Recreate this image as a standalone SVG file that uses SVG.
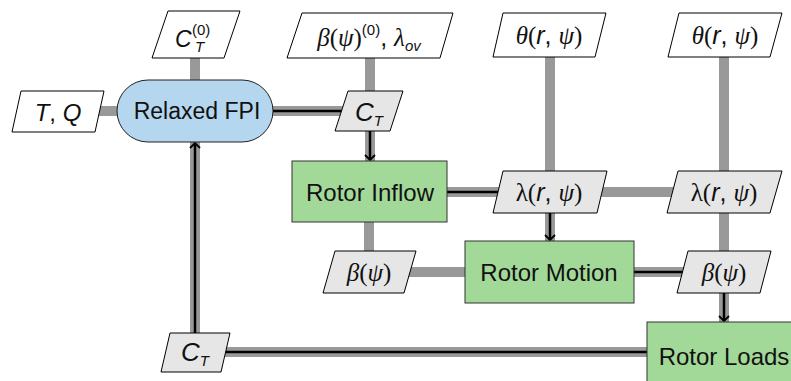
<svg xmlns="http://www.w3.org/2000/svg" width="791" height="381" viewBox="0 0 791 381">
  <defs>
    <style>
      .data { stroke: #999999; stroke-width: 10; fill: none; }
      .proc { stroke: #000000; stroke-width: 2.5; fill: none; }
      .pg-w { fill: #ffffff; stroke: #000000; stroke-width: 1; }
      .pg-g { fill: #e6e6e6; stroke: #000000; stroke-width: 1; }
      .comp { fill: #a3d998; stroke: #333333; stroke-width: 1; }
      .drv { fill: #b4d6ee; stroke: #222222; stroke-width: 1; }
      text { font-family: "Liberation Sans", Arial, sans-serif; font-size: 23px; fill: #111111; }
      .big { font-size: 24px; }
      .mt { font-size: 25px; }
      .sf { font-family: "Liberation Serif", "Times New Roman", serif; }
      .it { font-style: italic; }
      .sm { font-size: 15px; }
    </style>
    <marker id="arrow" markerUnits="userSpaceOnUse" markerWidth="14" markerHeight="14" refX="0" refY="0" viewBox="-8 -7 10 14" orient="auto">
      <path d="M-5,-5 L0,0 L-5,5" stroke="#000000" stroke-width="1.8" fill="none"/>
    </marker>
  </defs>

  <!-- connectors: grey data paths, black process paths on top -->
  <g id="connectors">
    <!-- data lines -->
    <line class="data" x1="60" y1="111" x2="195" y2="111"/>
    <line class="data" x1="195" y1="35" x2="195" y2="111"/>
    <line class="data" x1="195" y1="111" x2="370" y2="111"/>
    <line class="data" x1="370" y1="35" x2="370" y2="192"/>
    <line class="data" x1="369" y1="192" x2="724" y2="192"/>
    <line class="data" x1="550" y1="35" x2="550" y2="272"/>
    <line class="data" x1="724" y1="35" x2="724" y2="350"/>
    <line class="data" x1="369" y1="192" x2="369" y2="272"/>
    <line class="data" x1="369" y1="272" x2="724" y2="272"/>
    <line class="data" x1="195" y1="111" x2="195" y2="352"/>
    <line class="data" x1="195" y1="352" x2="724" y2="352"/>
    <!-- process lines -->
    <line class="proc" x1="273" y1="111" x2="345" y2="111"/>
    <line class="proc" x1="370" y1="131" x2="370" y2="160" marker-end="url(#arrow)"/>
    <line class="proc" x1="447" y1="192" x2="500" y2="192"/>
    <line class="proc" x1="550" y1="213" x2="550" y2="240" marker-end="url(#arrow)"/>
    <line class="proc" x1="634" y1="272" x2="684" y2="272"/>
    <line class="proc" x1="724" y1="293" x2="724" y2="321" marker-end="url(#arrow)"/>
    <line class="proc" x1="225" y1="352" x2="647" y2="352"/>
    <line class="proc" x1="195" y1="333" x2="195" y2="143" marker-end="url(#arrow)"/>
  </g>

  <!-- inputs -->
  <g id="in-TQ">
    <polygon class="pg-w" points="21,91 104,91 95,132 12,132"/>
    <text x="58" y="121" text-anchor="middle" class="big"><tspan class="it">T</tspan>, <tspan class="it">Q</tspan></text>
  </g>
  <g id="in-CT0">
    <polygon class="pg-w" points="168,11 240,11 224,58 152,58"/>
    <text x="175" y="47" class="it" font-size="26">C</text>
    <text x="192" y="35" class="sm" font-size="15">(0)</text>
    <text x="195" y="52" class="it sm">T</text>
  </g>
  <g id="in-beta0">
    <polygon class="pg-w" points="302,13 453,13 440,58 287,58"/>
    <text x="369" y="46" text-anchor="middle" class="mt"><tspan class="sf it">β</tspan><tspan class="sf">(</tspan><tspan class="sf it">ψ</tspan><tspan class="sf">)</tspan><tspan class="sm" dy="-11">(0)</tspan><tspan dy="11">, </tspan><tspan class="sf it">λ</tspan><tspan class="sm it" dy="5">ov</tspan></text>
  </g>
  <g id="in-theta1">
    <polygon class="pg-w" points="503,13 606,13 595,57 493,57"/>
    <text x="549" y="44" text-anchor="middle" class="mt"><tspan class="sf it">θ</tspan><tspan class="sf">(</tspan><tspan class="it">r</tspan>, <tspan class="sf it">ψ</tspan><tspan class="sf">)</tspan></text>
  </g>
  <g id="in-theta2">
    <polygon class="pg-w" points="679,13 782,13 770,57 668,57"/>
    <text x="725" y="44" text-anchor="middle" class="mt"><tspan class="sf it">θ</tspan><tspan class="sf">(</tspan><tspan class="it">r</tspan>, <tspan class="sf it">ψ</tspan><tspan class="sf">)</tspan></text>
  </g>

  <!-- driver -->
  <g id="fpi">
    <rect class="drv" x="117" y="80" width="156" height="62" rx="31" ry="31"/>
    <text x="197" y="119" text-anchor="middle">Relaxed FPI</text>
  </g>

  <!-- coupling variables -->
  <g id="ct-top">
    <polygon class="pg-g" points="348,91 403,91 390,131 335,131"/>
    <text x="369" y="121" text-anchor="middle"><tspan class="it" font-size="26">C</tspan><tspan class="it sm" dy="5">T</tspan></text>
  </g>
  <g id="lambda1">
    <polygon class="pg-g" points="503,171 607,171 597,213 493,213"/>
    <text x="549" y="201" text-anchor="middle" class="mt"><tspan class="sf">λ</tspan><tspan class="sf">(</tspan><tspan class="it">r</tspan>, <tspan class="sf it">ψ</tspan><tspan class="sf">)</tspan></text>
  </g>
  <g id="lambda2">
    <polygon class="pg-g" points="678,171 782,171 770,213 667,213"/>
    <text x="724" y="201" text-anchor="middle" class="mt"><tspan class="sf">λ</tspan><tspan class="sf">(</tspan><tspan class="it">r</tspan>, <tspan class="sf it">ψ</tspan><tspan class="sf">)</tspan></text>
  </g>
  <g id="beta-left">
    <polygon class="pg-g" points="335,251 416,251 404,293 323,293"/>
    <text x="369" y="281" text-anchor="middle" class="mt"><tspan class="sf it">β</tspan><tspan class="sf">(</tspan><tspan class="sf it">ψ</tspan><tspan class="sf">)</tspan></text>
  </g>
  <g id="beta-right">
    <polygon class="pg-g" points="688,251 771,251 760,293 677,293"/>
    <text x="724" y="281" text-anchor="middle" class="mt"><tspan class="sf it">β</tspan><tspan class="sf">(</tspan><tspan class="sf it">ψ</tspan><tspan class="sf">)</tspan></text>
  </g>
  <g id="ct-bottom">
    <polygon class="pg-g" points="170,333 230,333 221,372 161,372"/>
    <text x="195" y="361" text-anchor="middle"><tspan class="it" font-size="26">C</tspan><tspan class="it sm" dy="5">T</tspan></text>
  </g>

  <!-- disciplines -->
  <g id="rotor-inflow">
    <rect class="comp" x="292" y="161" width="155" height="61"/>
    <text x="370" y="201" text-anchor="middle" class="big">Rotor Inflow</text>
  </g>
  <g id="rotor-motion">
    <rect class="comp" x="465" y="241" width="169" height="62"/>
    <text x="549" y="281" text-anchor="middle" class="big">Rotor Motion</text>
  </g>
  <g id="rotor-loads">
    <rect class="comp" x="647" y="322" width="160" height="70"/>
    <text x="724" y="365" text-anchor="middle" class="big">Rotor Loads</text>
  </g>
</svg>
